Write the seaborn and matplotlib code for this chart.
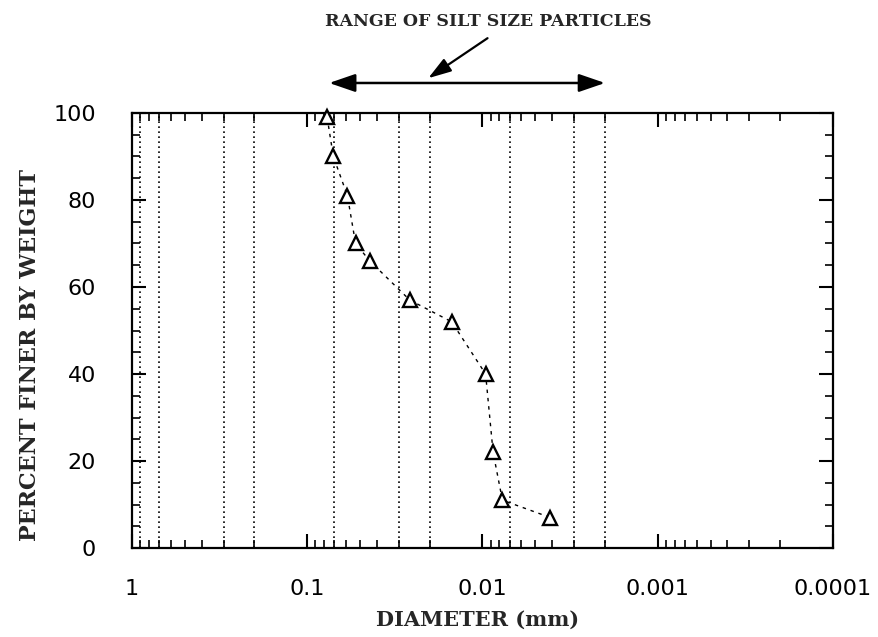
import numpy as np
import pandas as pd
import matplotlib
matplotlib.use("Agg")
import matplotlib.pyplot as plt
import seaborn as sns
from matplotlib.ticker import LogLocator, NullFormatter, MultipleLocator

# ---- data ----
diameter_mm = [0.077, 0.071, 0.059, 0.053, 0.044, 0.026, 0.015, 0.0096, 0.0087, 0.0077, 0.0041]
percent_finer = [99, 90, 81, 70, 66, 57, 52, 40, 22, 11, 7]
x_tick_values = [1, 0.1, 0.01, 0.001, 0.0001]
x_tick_labels = ["1", "0.1", "0.01", "0.001", "0.0001"]
y_tick_values = [0, 20, 40, 60, 80, 100]
grid_diameters = [0.9, 0.7, 0.3, 0.2, 0.07, 0.03, 0.02, 0.007, 0.003, 0.002]
silt_range = [0.075, 0.002]
title_text = "RANGE OF SILT SIZE PARTICLES"
x_label = "DIAMETER (mm)"
y_label = "PERCENT FINER BY WEIGHT"

sns.set_style("ticks")
plt.rcParams["font.family"] = ["DejaVu Sans"]

fig = plt.figure(figsize=(8.79, 6.37), dpi=100)
ax = fig.add_axes([132 / 879, 1 - 548 / 637, 701 / 879, 435 / 637])

df = pd.DataFrame({"diameter": diameter_mm, "percent": percent_finer})

for g in grid_diameters:
    ax.axvline(g, color="black", lw=1.2, ls=(0, (1, 2)), zorder=1)

sns.lineplot(data=df, x="diameter", y="percent", ax=ax, sort=False,
             color="black", lw=1.0, ls=(0, (2.5, 3.5)), marker="^",
             markersize=10.5, markerfacecolor="white", markeredgecolor="black",
             markeredgewidth=1.7, zorder=3, clip_on=False)

ax.set_xscale("log")
ax.set_xlim(1, 0.0001)
ax.set_ylim(0, 100)
ax.set_xticks(x_tick_values, x_tick_labels)
ax.xaxis.set_minor_locator(LogLocator(base=10, subs=np.arange(2, 10)))
ax.xaxis.set_minor_formatter(NullFormatter())
ax.set_yticks(y_tick_values)
ax.yaxis.set_minor_locator(MultipleLocator(5))

ax.tick_params(axis="both", which="both", direction="in", top=True, right=True,
               labeltop=False, labelright=False, colors="black")
ax.tick_params(axis="both", which="major", length=10, width=1.5, labelsize=16)
ax.tick_params(axis="both", which="minor", length=6, width=1.2)
ax.tick_params(axis="x", which="major", pad=22)
ax.tick_params(axis="y", which="major", pad=26)

for s in ax.spines.values():
    s.set_linewidth(1.6)
    s.set_color("black")

ax.set_xlabel(x_label, family="DejaVu Serif", fontsize=15, fontweight="bold")
ax.xaxis.label.set_va("center")
ax.xaxis.set_label_coords((478 - 132) / 701, (548 - 620) / 435)
ax.set_ylabel(y_label, family="DejaVu Serif", fontsize=16, fontweight="bold")
ax.yaxis.label.set_va("center")
ax.yaxis.set_label_coords((30 - 132) / 701, (548 - 355) / 435)

ax.text((488 - 132) / 701, (548 - 22) / 435, title_text, transform=ax.transAxes,
        ha="center", va="center", family="DejaVu Serif", fontsize=12.5,
        fontweight="bold")

ax.annotate("", xy=(silt_range[1], 106.9), xytext=(silt_range[0], 106.9),
            arrowprops=dict(arrowstyle="<|-|>,head_length=1.6,head_width=0.55",
                            color="black", lw=1.8, shrinkA=0, shrinkB=0),
            annotation_clip=False)
ax.annotate("", xy=(0.0204, 108.0), xytext=(0.00936, 117.2),
            arrowprops=dict(arrowstyle="-|>,head_length=1.4,head_width=0.45",
                            color="black", lw=1.6, shrinkA=0, shrinkB=0),
            annotation_clip=False)

fig.savefig("out.png", dpi=100, facecolor="white")
